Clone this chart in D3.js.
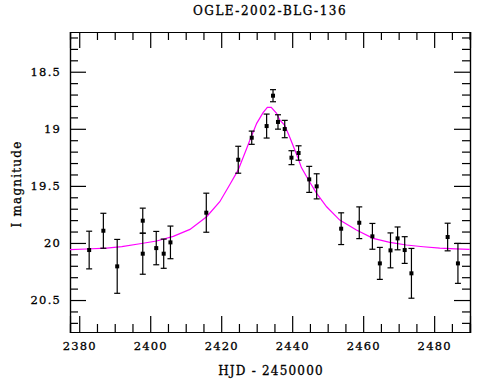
<!DOCTYPE html>
<html>
<head>
<meta charset="utf-8">
<script src="https://cdn.jsdelivr.net/npm/d3@7"></script>
<style>
  body { margin: 0; background: #fff; }
  svg { display: block; }
  text { font-family: "DejaVu Serif", "Liberation Serif", serif; fill: #000; }
</style>
</head>
<body>
<svg id="chart" width="490" height="380"></svg>
<script>
// Observations (HJD - 2450000, I magnitude, error)
const obsT   = [2382.8, 2386.8, 2390.7, 2397.9, 2397.9, 2401.7, 2403.8, 2405.7, 2415.8,
                2424.8, 2428.6, 2432.8, 2434.6, 2436.0, 2437.9, 2439.8, 2441.8, 2444.8, 2446.9,
                2453.8, 2458.9, 2462.6, 2464.7, 2467.7, 2469.7, 2471.7, 2473.6, 2483.8, 2486.7];
const obsMag = [20.062, 19.893, 20.205, 19.805, 20.094, 20.045, 20.094, 19.995, 19.735,
                19.271, 19.078, 18.976, 18.710, 18.940, 19.002, 19.253, 19.212, 19.443, 19.504,
                19.875, 19.823, 19.942, 20.179, 20.065, 19.960, 20.062, 20.266, 19.948, 20.179];
const obsErr = [0.165, 0.153, 0.236, 0.110, 0.180, 0.146, 0.128, 0.143, 0.171,
                0.118, 0.058, 0.105, 0.053, 0.063, 0.076, 0.061, 0.063, 0.114, 0.110,
                0.139, 0.139, 0.113, 0.140, 0.153, 0.100, 0.117, 0.218, 0.121, 0.175];

// Model light curve
const curveT = [2377.4, 2382.0, 2387.7, 2392.0, 2397.1, 2401.8, 2406.5, 2411.2, 2415.9, 2419.6,
                2422.4, 2424.8, 2427.2, 2428.1, 2430.0, 2431.8, 2433.0, 2434.1, 2435.6, 2436.5,
                2437.9, 2439.4, 2441.7, 2442.6, 2444.8, 2446.9, 2449.7, 2453.4, 2458.1, 2462.8,
                2467.5, 2472.2, 2476.9, 2481.6, 2486.0, 2490.0];
const curveM = [20.058, 20.053, 20.045, 20.032, 20.007, 19.983, 19.942, 19.881, 19.770, 19.639,
                19.490, 19.360, 19.170, 19.098, 18.952, 18.859, 18.812, 18.812, 18.864, 18.923,
                18.970, 19.080, 19.260, 19.340, 19.460, 19.566, 19.683, 19.800, 19.887, 19.960,
                19.995, 20.018, 20.033, 20.045, 20.051, 20.056];

const xMajor = [2380, 2400, 2420, 2440, 2460, 2480];
const xMinor = [2385, 2390, 2395, 2405, 2410, 2415, 2425, 2430, 2435, 2445, 2450, 2455,
                2465, 2470, 2475, 2485, 2490];
const yMajor = [18.5, 19, 19.5, 20, 20.5];
const yMinor = [18.2, 18.3, 18.4, 18.6, 18.7, 18.8, 18.9, 19.1, 19.2, 19.3, 19.4,
                19.6, 19.7, 19.8, 19.9, 20.1, 20.2, 20.3, 20.4, 20.6, 20.7];

const titleText = "OGLE-2002-BLG-136";
const xLabel = "HJD - 2450000";
const yLabel = "I magnitude";

const L = 70, R = 470, T = 32, B = 332;
const svg = d3.select("#chart");

const x = d3.scaleLinear().domain([2377.4, 2490.1]).range([L, R]);
const y = d3.scaleLinear().domain([18.152, 20.78]).range([T, B]);

const fmtY = d => d3.format("")(d);

function styleAxis(g) {
  g.select(".domain").attr("stroke", "#000").attr("stroke-width", 1.2);
  g.selectAll(".tick line").attr("stroke", "#000").attr("stroke-width", 1.2);
  g.selectAll("text").attr("font-size", 11.5).attr("letter-spacing", 1.2)
    .attr("font-family", '"DejaVu Serif", serif').attr("fill", "#000")
    .attr("stroke", "#000").attr("stroke-width", 0.3);
}

// bottom
svg.append("g").attr("transform", `translate(0,${B})`)
  .call(d3.axisBottom(x).tickValues(xMajor).tickSize(-16).tickPadding(10).tickFormat(d3.format("d")))
  .call(styleAxis);
svg.append("g").attr("transform", `translate(0,${B})`)
  .call(d3.axisBottom(x).tickValues(xMinor).tickSize(-8).tickFormat(""))
  .call(styleAxis);
// top
svg.append("g").attr("transform", `translate(0,${T})`)
  .call(d3.axisTop(x).tickValues(xMajor).tickSize(-16).tickFormat(""))
  .call(styleAxis);
svg.append("g").attr("transform", `translate(0,${T})`)
  .call(d3.axisTop(x).tickValues(xMinor).tickSize(-8).tickFormat(""))
  .call(styleAxis);
// left
svg.append("g").attr("transform", `translate(${L},0)`)
  .call(d3.axisLeft(y).tickValues(yMajor).tickSize(-16).tickPadding(9).tickFormat(fmtY))
  .call(styleAxis);
svg.append("g").attr("transform", `translate(${L},0)`)
  .call(d3.axisLeft(y).tickValues(yMinor).tickSize(-8).tickFormat(""))
  .call(styleAxis);
// right
svg.append("g").attr("transform", `translate(${R},0)`)
  .call(d3.axisRight(y).tickValues(yMajor).tickSize(-16).tickFormat(""))
  .call(styleAxis);
svg.append("g").attr("transform", `translate(${R},0)`)
  .call(d3.axisRight(y).tickValues(yMinor).tickSize(-8).tickFormat(""))
  .call(styleAxis);

// model curve
const line = d3.line().x((d, i) => x(curveT[i])).y((d, i) => y(curveM[i]));
svg.append("path").datum(curveM).attr("d", line)
  .attr("fill", "none").attr("stroke", "#ff00ff").attr("stroke-width", 1.2);

// error bars and points
const obs = obsT.map((t, i) => ({t, m: obsMag[i], e: obsErr[i]}));
const eb = svg.append("g").attr("stroke", "#000").attr("stroke-width", 1.2);
eb.selectAll("line.v").data(obs).join("line").attr("class", "v")
  .attr("x1", d => x(d.t)).attr("x2", d => x(d.t))
  .attr("y1", d => y(d.m - d.e)).attr("y2", d => y(d.m + d.e));
eb.selectAll("line.c1").data(obs).join("line").attr("class", "c1")
  .attr("x1", d => x(d.t) - 3).attr("x2", d => x(d.t) + 3)
  .attr("y1", d => y(d.m - d.e)).attr("y2", d => y(d.m - d.e));
eb.selectAll("line.c2").data(obs).join("line").attr("class", "c2")
  .attr("x1", d => x(d.t) - 3).attr("x2", d => x(d.t) + 3)
  .attr("y1", d => y(d.m + d.e)).attr("y2", d => y(d.m + d.e));
svg.append("g").selectAll("rect").data(obs).join("rect")
  .attr("x", d => x(d.t) - 2).attr("y", d => y(d.m) - 2)
  .attr("width", 4).attr("height", 4).attr("fill", "#000");

// texts
const texts = svg.append("g").attr("stroke", "#000").attr("stroke-width", 0.3);
texts.append("text").attr("x", 270).attr("y", 15).attr("text-anchor", "middle")
  .attr("font-size", 12).attr("letter-spacing", 1.5).text(titleText);
texts.append("text").attr("x", 271).attr("y", 375).attr("text-anchor", "middle")
  .attr("font-size", 12).attr("letter-spacing", 1.2).text(xLabel);
texts.append("text").attr("transform", "translate(21,184) rotate(-90)").attr("text-anchor", "middle")
  .attr("font-size", 12).attr("letter-spacing", 1.2).text(yLabel);
</script>
</body>
</html>
